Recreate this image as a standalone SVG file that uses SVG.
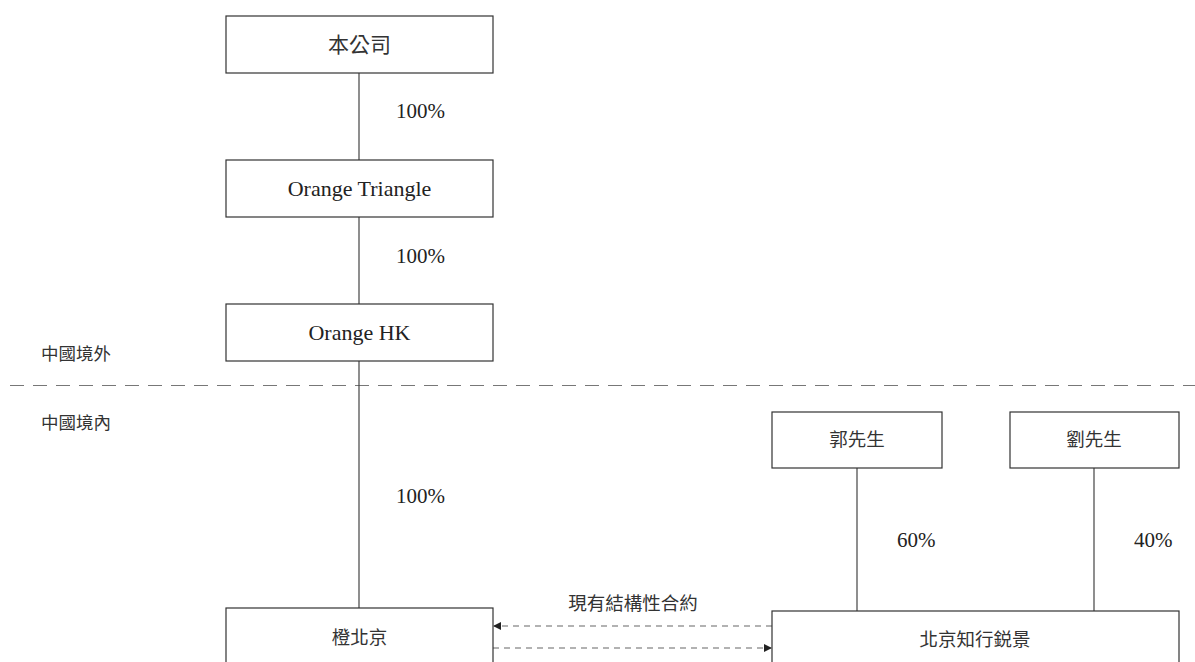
<svg xmlns="http://www.w3.org/2000/svg" width="1195" height="662" viewBox="0 0 1195 662">
<style>
.box{fill:#fff;stroke:#333;stroke-width:1.2}
.ln{stroke:#444;stroke-width:1.2;fill:none}
.en{font-family:"Liberation Serif","Times New Roman",serif;font-size:22px;fill:#222;text-anchor:middle}
.pc{font-family:"Liberation Serif","Times New Roman",serif;font-size:21px;fill:#222}
.zh{font-family:"Liberation Serif","Noto Sans CJK TC",sans-serif;font-size:18.5px;fill:#333;text-anchor:middle}
.zl{font-family:"Liberation Serif","Noto Sans CJK TC",sans-serif;font-size:17.5px;fill:#333}
.dash{stroke:#666;stroke-width:1.2;stroke-dasharray:6 5;fill:none}
</style>
<defs>
<marker id="ah" markerWidth="8" markerHeight="8" refX="7" refY="4" orient="auto" markerUnits="userSpaceOnUse">
<path d="M0,0 L8,4 L0,8 Z" fill="#222"/>
</marker>
</defs>
<rect width="1195" height="662" fill="#fff"/>
<line x1="10" y1="385.5" x2="1195" y2="385.5" stroke="#777" stroke-width="1.2" stroke-dasharray="14 9"/>
<text class="zl" x="41" y="360">中國境外</text>
<text class="zl" x="41" y="429">中國境內</text>
<g id="connectors">
<line class="ln" x1="359" y1="73" x2="359" y2="160"/>
<line class="ln" x1="359" y1="217" x2="359" y2="304"/>
<line class="ln" x1="359" y1="361" x2="359" y2="608"/>
<line class="ln" x1="857" y1="468" x2="857" y2="611"/>
<line class="ln" x1="1094" y1="468" x2="1094" y2="611"/>
<line class="dash" x1="772" y1="626" x2="494" y2="626" marker-end="url(#ah)"/>
<line class="dash" x1="493" y1="648" x2="771" y2="648" marker-end="url(#ah)"/>
<text class="pc" x="396" y="118">100%</text>
<text class="pc" x="396" y="263">100%</text>
<text class="pc" x="396" y="503">100%</text>
<text class="pc" x="897" y="547">60%</text>
<text class="pc" x="1134" y="547">40%</text>
<text class="zh" x="633" y="610">現有結構性合約</text>
</g>
<g id="n1"><rect class="box" x="226" y="16" width="267" height="57"/><text class="zh" style="font-size:21px" x="359.5" y="52">本公司</text></g>
<g id="n2"><rect class="box" x="226" y="160" width="267" height="57"/><text class="en" x="359.5" y="196">Orange Triangle</text></g>
<g id="n3"><rect class="box" x="226" y="304" width="267" height="57"/><text class="en" x="359.5" y="340">Orange HK</text></g>
<g id="n4"><rect class="box" x="772" y="412" width="170" height="56"/><text class="zh" x="857" y="446">郭先生</text></g>
<g id="n5"><rect class="box" x="1010" y="412" width="169" height="56"/><text class="zh" x="1094" y="446">劉先生</text></g>
<g id="n6"><rect class="box" x="226" y="608" width="267" height="70"/><text class="zh" x="359.5" y="644">橙北京</text></g>
<g id="n7"><rect class="box" x="772" y="611" width="407" height="70"/><text class="zh" x="975" y="646">北京知行鋭景</text></g>
</svg>
